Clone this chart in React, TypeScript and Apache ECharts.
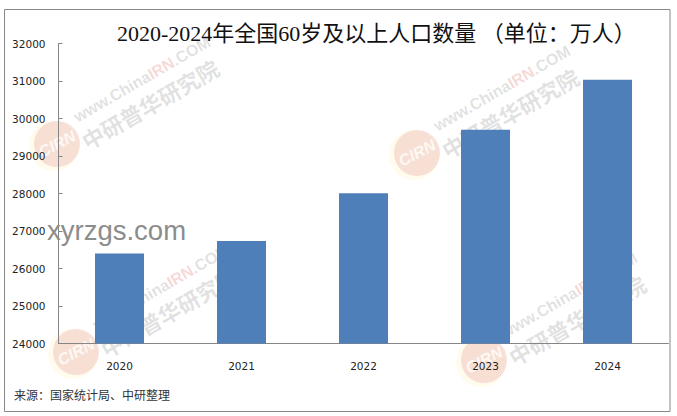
import React, { useEffect, useRef } from "react";
import * as echarts from "echarts";

const years = ["2020", "2021", "2022", "2023", "2024"];
const population = [26402, 26736, 28004, 29697, 31031];
const titleText = "2020-2024年全国60岁及以上人口数量 （单位：万人）";
const sourceText = "来源：国家统计局、中研整理";
const stampText = "xyrzgs.com";
const markCentres = [
  [57, 144],
  [76, 352],
  [417, 153],
  [484, 360],
];

const CJK = '"Liberation Serif", "Noto Sans CJK SC"';
const SANS = '"DejaVu Sans", "Noto Sans CJK SC"';

function watermark(cx: number, cy: number) {
  return {
    type: "group",
    x: cx,
    y: cy,
    z: 50,
    silent: true,
    children: [
      { type: "circle", shape: { cx: -3, cy: 2, r: 25 }, style: { fill: "rgba(255,245,190,0.28)" } },
      { type: "circle", shape: { cx: 0, cy: 0, r: 23 }, style: { fill: "rgba(222,110,110,0.20)" } },
      {
        type: "text",
        rotation: (28 * Math.PI) / 180,
        style: {
          text: "CIRN",
          x: 0,
          y: 0,
          align: "center",
          verticalAlign: "middle",
          font: 'italic bold 16px "Liberation Sans"',
          fill: "rgba(255,255,255,0.8)",
        },
      },
      {
        type: "text",
        x: 18,
        y: -26,
        rotation: (30 * Math.PI) / 180,
        style: {
          text: "{a|www.China}{b|IRN}{a|.COM}",
          verticalAlign: "middle",
          rich: {
            a: { font: 'bold 16px "Liberation Sans"', fill: "rgba(120,120,120,0.22)" },
            b: { font: 'bold 16px "Liberation Sans"', fill: "rgba(215,90,80,0.24)" },
          },
        },
      },
      {
        type: "text",
        x: 26,
        y: -2,
        rotation: (30 * Math.PI) / 180,
        style: {
          text: "中研普华研究院",
          verticalAlign: "middle",
          font: 'bold 22px "Noto Sans CJK SC"',
          fill: "rgba(120,120,120,0.22)",
        },
      },
    ],
  };
}

export default function App() {
  const ref = useRef<HTMLDivElement>(null);
  useEffect(() => {
    const chart = echarts.init(ref.current!, undefined, { renderer: "svg" });
    chart.setOption({
      animation: false,
      backgroundColor: "#ffffff",
      grid: { left: 58.5, right: 8.5, top: 43.5, bottom: 72.5 },
      xAxis: {
        type: "category",
        data: years,
        axisLine: { lineStyle: { color: "#868686", width: 1 } },
        axisTick: { inside: true, length: 4, lineStyle: { color: "#868686" } },
        axisLabel: { margin: 17, fontSize: 10.5, color: "#222222", fontFamily: SANS },
      },
      yAxis: {
        type: "value",
        min: 24000,
        max: 32000,
        interval: 1000,
        splitLine: { show: false },
        axisLine: { show: true, lineStyle: { color: "#868686", width: 1 } },
        axisTick: { show: true, inside: true, length: 4, lineStyle: { color: "#868686" } },
        axisLabel: {
          margin: 13,
          fontSize: 10.5,
          color: "#222222",
          fontFamily: SANS,
          formatter: (v: number) => String(v),
        },
      },
      series: [
        {
          type: "bar",
          data: population,
          barWidth: 49,
          itemStyle: { color: "#4f7fb9" },
        },
      ],
      graphic: [
        {
          type: "rect",
          z: 0,
          shape: { x: 4.5, y: 9.5, width: 665.5, height: 402 },
          style: { fill: "none", stroke: "#888888", lineWidth: 1 },
        },
        {
          type: "text",
          x: 117,
          y: 33,
          z: 60,
          style: { text: titleText, font: `22px ${CJK}`, fill: "#111111", verticalAlign: "middle" },
        },
        {
          type: "text",
          x: 14,
          y: 394,
          z: 60,
          style: { text: sourceText, font: '12px "Noto Sans CJK SC"', fill: "#333333", verticalAlign: "middle" },
        },
        ...markCentres.map(([x, y]) => watermark(x, y)),
        {
          type: "text",
          x: 47,
          y: 230,
          z: 70,
          style: { text: stampText, font: '27.5px "Liberation Sans"', fill: "#8c8c8c", verticalAlign: "middle" },
        },
      ],
    });
    return () => chart.dispose();
  }, []);
  return (
    <div
      ref={ref}
      style={{ position: "absolute", left: 0, top: 0, width: 677, height: 416 }}
    />
  );
}
